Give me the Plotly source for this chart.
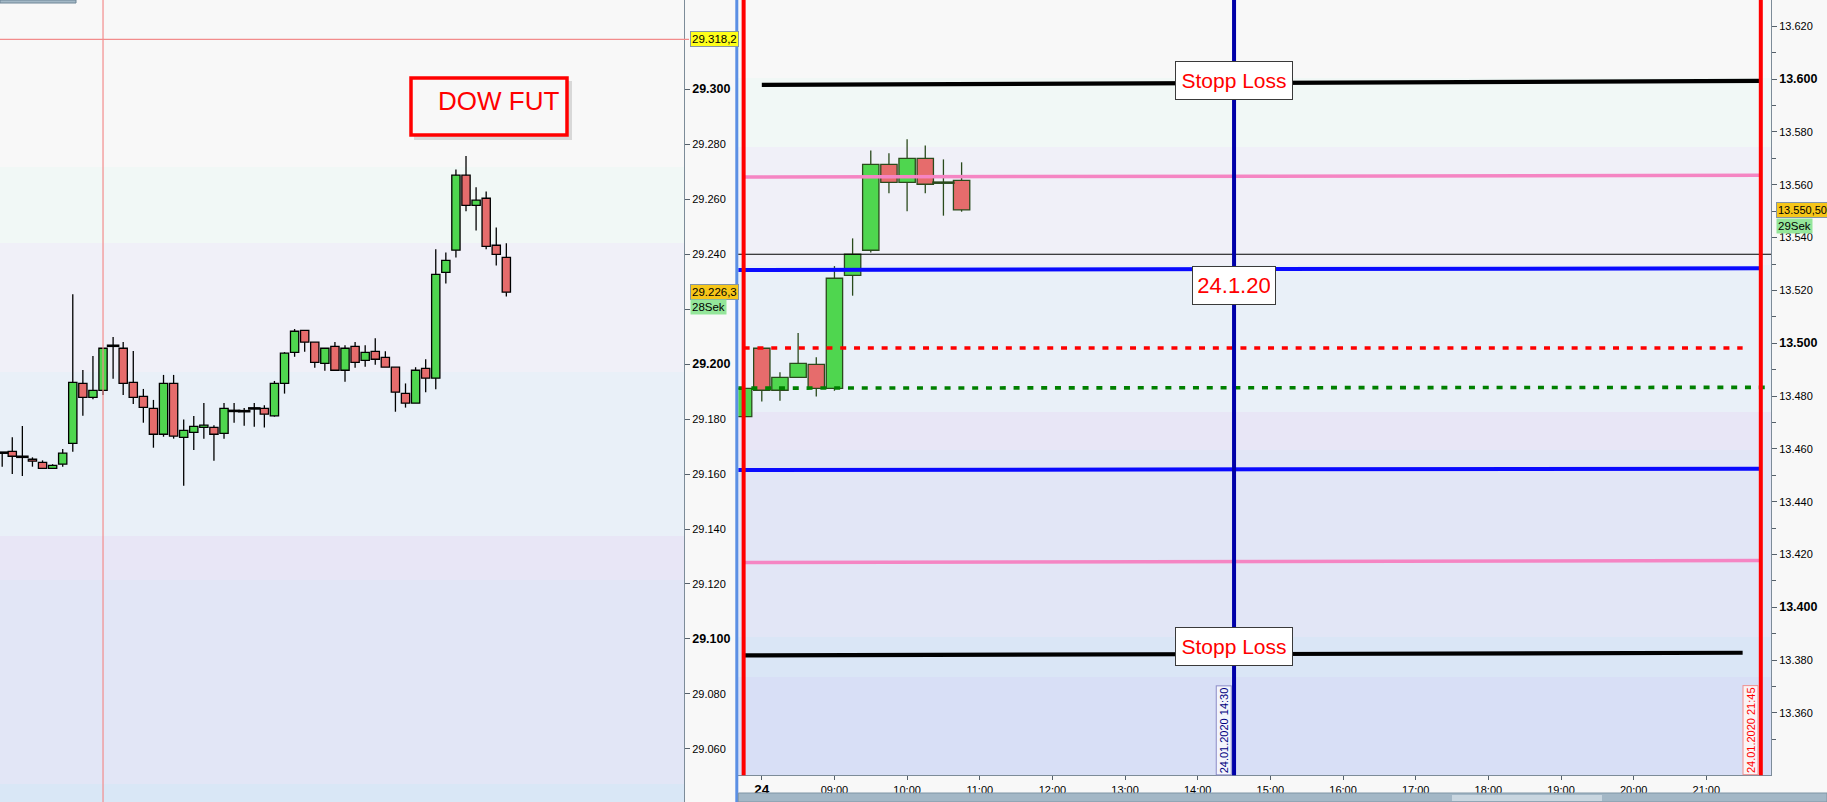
import plotly.graph_objects as go

W, H = 1827, 802

# ---------------- Left chart: DOW FUT (index candles) ----------------
dow_open = [29167.8, 29168.3, 29166.3, 29165.4, 29164.3, 29162.1, 29163.6, 29171.2, 29193.0, 29187.9,
            29190.5, 29206.7, 29205.8, 29193.4, 29188.3, 29183.9, 29174.5, 29193.0, 29173.4, 29175.2,
            29177.0, 29177.0, 29174.8, 29183.0, 29182.9, 29183.9, 29183.9, 29181.2, 29193.0, 29204.3,
            29212.3, 29208.0, 29200.3, 29206.5, 29197.8, 29206.5, 29201.4, 29204.7, 29202.5, 29198.9,
            29189.4, 29185.8, 29198.5, 29194.9, 29233.4, 29241.5, 29268.8, 29257.8, 29260.4, 29243.3,
            29238.9]
dow_high = [29168.0, 29173.4, 29177.5, 29166.1, 29165.0, 29163.6, 29169.1, 29225.5, 29197.9, 29203.0,
            29205.8, 29209.9, 29208.1, 29204.8, 29191.0, 29187.0, 29196.1, 29196.1, 29179.9, 29181.1,
            29185.9, 29177.8, 29185.9, 29185.9, 29184.1, 29185.9, 29185.1, 29193.9, 29204.4, 29212.8,
            29212.3, 29208.0, 29205.8, 29208.1, 29206.9, 29208.1, 29206.9, 29209.4, 29204.7, 29198.9,
            29193.0, 29198.9, 29201.8, 29241.8, 29240.7, 29270.9, 29275.8, 29264.4, 29262.9, 29249.8,
            29244.0]
dow_low = [29162.7, 29160.0, 29159.3, 29162.7, 29162.1, 29162.1, 29162.7, 29168.1, 29181.2, 29187.2,
           29188.8, 29194.7, 29188.8, 29185.5, 29178.7, 29169.6, 29173.6, 29172.9, 29155.8, 29168.8,
           29172.9, 29164.9, 29172.9, 29178.7, 29177.6, 29177.2, 29177.0, 29180.9, 29189.3, 29202.7,
           29204.5, 29198.7, 29197.6, 29197.8, 29193.6, 29198.7, 29199.1, 29199.8, 29198.9, 29182.7,
           29184.2, 29185.8, 29189.8, 29190.9, 29229.4, 29238.8, 29255.7, 29248.7, 29241.8, 29235.9,
           29224.6]
dow_close = [29167.8, 29166.5, 29166.3, 29164.7, 29162.1, 29163.2, 29167.6, 29193.4, 29187.9, 29190.5,
             29205.8, 29206.7, 29193.0, 29187.9, 29184.3, 29174.5, 29193.0, 29173.8, 29175.9, 29177.4,
             29177.8, 29174.5, 29183.9, 29183.0, 29182.9, 29183.9, 29181.8, 29193.0, 29204.0, 29212.0,
             29208.0, 29200.7, 29205.8, 29197.8, 29205.8, 29200.7, 29204.3, 29201.8, 29198.9, 29189.8,
             29185.8, 29197.8, 29194.9, 29232.7, 29237.8, 29268.8, 29257.8, 29259.7, 29242.9, 29240.0,
             29226.2]
dow_last = 29226.3
dow_cross_value = 29318.2
dow_cross_index = 10
dow_ticks = [29060, 29080, 29100, 29120, 29140, 29160, 29180, 29200, 29220, 29240, 29260, 29280, 29300]

# ---------------- Right chart: 15-minute candles ----------------
dax_time = ["2020-01-24 07:45", "2020-01-24 08:00", "2020-01-24 08:15", "2020-01-24 08:30",
            "2020-01-24 08:45", "2020-01-24 09:00", "2020-01-24 09:15", "2020-01-24 09:30",
            "2020-01-24 09:45", "2020-01-24 10:00", "2020-01-24 10:15", "2020-01-24 10:30",
            "2020-01-24 10:45"]
dax_open = [13472.2, 13498.1, 13482.2, 13487.1, 13492.0, 13482.9, 13525.7, 13535.2, 13567.7, 13560.9,
            13570.0, 13560.8, 13561.7]
dax_high = [13484.2, 13498.1, 13489.0, 13503.9, 13494.7, 13529.2, 13539.7, 13573.0, 13571.9, 13577.2,
            13574.9, 13569.6, 13568.5]
dax_low = [13472.2, 13477.9, 13478.2, 13487.1, 13479.8, 13482.0, 13518.0, 13534.4, 13556.8, 13550.0,
           13556.8, 13548.3, 13549.8]
dax_close = [13482.9, 13482.2, 13487.1, 13492.4, 13482.9, 13524.6, 13533.7, 13567.7, 13560.9, 13570.0,
             13560.2, 13560.8, 13550.5]
dax_last = 13550.5
dax_cross_value = 13533.7
dax_ticks = [13360, 13380, 13400, 13420, 13440, 13460, 13480, 13500, 13520, 13540, 13560, 13580, 13600, 13620]
dax_minor = [13350, 13370, 13390, 13410, 13430, 13450, 13470, 13490, 13510, 13530, 13550, 13570, 13590, 13610, 13630]

time_ticks = ["2020-01-24 08:00", "2020-01-24 09:00", "2020-01-24 10:00", "2020-01-24 11:00",
              "2020-01-24 12:00", "2020-01-24 13:00", "2020-01-24 14:00", "2020-01-24 15:00",
              "2020-01-24 16:00", "2020-01-24 17:00", "2020-01-24 18:00", "2020-01-24 19:00",
              "2020-01-24 20:00", "2020-01-24 21:00"]
time_labels = ["24", "09:00", "10:00", "11:00", "12:00", "13:00", "14:00", "15:00", "16:00",
               "17:00", "18:00", "19:00", "20:00", "21:00"]

# drawn levels (right axis values)
level_key = ["sl_top", "pink_top", "blue_top", "red_dot", "green_dot", "blue_low", "pink_low", "sl_low"]
level_t0 = ["2020-01-24 08:00", "2020-01-24 07:45", "2020-01-24 07:40", "2020-01-24 07:45",
            "2020-01-24 07:40", "2020-01-24 07:40", "2020-01-24 07:45", "2020-01-24 07:45"]
level_t1 = ["2020-01-24 21:45", "2020-01-24 21:45", "2020-01-24 21:45", "2020-01-24 21:30",
            "2020-01-24 21:54", "2020-01-24 21:45", "2020-01-24 21:45", "2020-01-24 21:30"]
level_v0 = [13597.8, 13562.9, 13527.7, 13498.2, 13483.0, 13452.0, 13417.0, 13381.8]
level_v1 = [13599.3, 13563.6, 13528.4, 13498.2, 13483.3, 13452.5, 13417.7, 13382.8]

vline_times = ["2020-01-24 07:45", "2020-01-24 14:30", "2020-01-24 21:45"]
vline_labels = ["", "24.01.2020 14:30", "24.01.2020 21:45"]

# ---------------- styles ----------------
FONT = "Liberation Sans, Arial, sans-serif"
GREEN = "#4fd64f"
RED = "#e66c6c"
level_style = {
    "sl_top": dict(color="#000000", width=4.2),
    "pink_top": dict(color="#f585c3", width=3.5),
    "blue_top": dict(color="#0a0aff", width=4.0),
    "red_dot": dict(color="#ff0000", width=3.6, dash="6px,7.8px"),
    "green_dot": dict(color="#008000", width=3.6, dash="6px,7.8px"),
    "blue_low": dict(color="#0a0aff", width=4.0),
    "pink_low": dict(color="#f585c3", width=3.5),
    "sl_low": dict(color="#000000", width=4.2),
}


def px(x):
    return x / W


def py(y):
    return 1 - y / H


def fmt(v, dec=0):
    s = f"{v:,.{dec}f}"
    return s.replace(",", "X").replace(".", ",").replace("X", ".")


def bold_label(v, big):
    t = fmt(v)
    if big:
        return f'<span style="font-size:12.5px"><b>{t}</b></span>'
    return t


fig = go.Figure()


def add_candles(x, o, h, l, c, width, outline, xa, ya, doji_size):
    body_base = [min(a, b) for a, b in zip(o, c)]
    body_h = [abs(b - a) for a, b in zip(o, c)]
    colors = [GREEN if b >= a else RED for a, b in zip(o, c)]
    wx, wy = [], []
    for xi, oi, hi, li, ci in zip(x, o, h, l, c):
        top, bot = max(oi, ci), min(oi, ci)
        wx += [xi, xi, None, xi, xi, None]
        wy += [hi, top, None, bot, li, None]
    fig.add_trace(go.Bar(x=x, y=body_h, base=body_base, width=width,
                         marker=dict(color=colors, line=dict(color=outline, width=1.3)),
                         xaxis=xa, yaxis=ya, hoverinfo="skip", showlegend=False))
    fig.add_trace(go.Scatter(x=wx, y=wy, mode="lines", line=dict(color=outline, width=1.3),
                             connectgaps=False, xaxis=xa, yaxis=ya, hoverinfo="skip", showlegend=False))
    dx = [xi for xi, oi, ci in zip(x, o, c) if oi == ci]
    dy = [oi for oi, ci in zip(o, c) if oi == ci]
    fig.add_trace(go.Scatter(x=dx, y=dy, mode="markers",
                             marker=dict(symbol="line-ew", size=doji_size, line=dict(color=outline, width=2.6)),
                             xaxis=xa, yaxis=ya, hoverinfo="skip", showlegend=False))


dow_x = list(range(len(dow_open)))
add_candles(dow_x, dow_open, dow_high, dow_low, dow_close, 0.82, "#000000", "x", "y", 9)
add_candles(dax_time, dax_open, dax_high, dax_low, dax_close, 810000, "#2a4a1c", "x2", "y2", 16)

for k, t0, t1, v0, v1 in zip(level_key, level_t0, level_t1, level_v0, level_v1):
    fig.add_trace(go.Scatter(x=[t0, t1], y=[v0, v1], mode="lines", line=level_style[k],
                             xaxis="x2", yaxis="y2", hoverinfo="skip", showlegend=False))

shapes = []
# background bands (pixel rows)
left_bands = [(0, 167, "#f8f8f8"), (167, 243, "#f1f8f6"), (243, 372, "#f0f0f8"), (372, 536, "#e9f0f8"),
              (536, 580, "#e8e6f6"), (580, 784, "#e2e6f6"), (784, 802, "#d9e7f6")]
right_bands = [(0, 78, "#f8f8f8"), (78, 147, "#f1f8f6"), (147, 265, "#f0f0f8"), (265, 412, "#e9f0f8"),
               (412, 450, "#e8e6f6"), (450, 637, "#e2e6f6"), (637, 677, "#dae6f6"), (677, 775.3, "#d8dff6")]
for y0, y1, col in left_bands:
    shapes.append(dict(type="rect", xref="paper", yref="paper", x0=px(0), x1=px(684), y0=py(y1), y1=py(y0),
                       fillcolor=col, line=dict(width=0), layer="below"))
for y0, y1, col in right_bands:
    shapes.append(dict(type="rect", xref="paper", yref="paper", x0=px(738), x1=px(1771), y0=py(y1), y1=py(y0),
                       fillcolor=col, line=dict(width=0), layer="below"))

# blue active-window strip and scrollbar
shapes.append(dict(type="rect", xref="paper", yref="paper", x0=px(735.3), x1=px(738.3), y0=0, y1=1,
                   fillcolor="#5b8fe4", line=dict(width=0), layer="above"))
shapes.append(dict(type="rect", xref="paper", yref="paper", x0=px(738.3), x1=1, y0=0, y1=py(793),
                   fillcolor="#a3b7c6", line=dict(color="#7f95a5", width=1), layer="above"))
shapes.append(dict(type="rect", xref="paper", yref="paper", x0=px(1452), x1=px(1602), y0=py(801), y1=py(795),
                   fillcolor="#c9d6e0", line=dict(width=0), layer="above"))
shapes.append(dict(type="rect", xref="paper", yref="paper", x0=0, x1=px(76), y0=py(3), y1=1,
                   fillcolor="#a3b8c6", line=dict(color="#6f8697", width=1), layer="above"))

# left crosshair
shapes.append(dict(type="line", xref="x", yref="y domain", x0=dow_cross_index, x1=dow_cross_index, y0=0, y1=1,
                   line=dict(color="#f28c8c", width=1.2), layer="above"))
shapes.append(dict(type="line", xref="paper", yref="y", x0=0, x1=px(689), y0=dow_cross_value, y1=dow_cross_value,
                   line=dict(color="#f28c8c", width=1.2), layer="above"))
# right crosshair
shapes.append(dict(type="line", xref="x2 domain", yref="y2", x0=0, x1=1, y0=dax_cross_value, y1=dax_cross_value,
                   line=dict(color="#000000", width=1.1), layer="above"))
# vertical time lines
vcols = ["#ff0000", "#0000a8", "#ff0000"]
for t, col in zip(vline_times, vcols):
    shapes.append(dict(type="line", xref="x2", yref="y2 domain", x0=t, x1=t, y0=0, y1=1,
                       line=dict(color=col, width=4), layer="above"))

# DOW FUT box with shadow
shapes.append(dict(type="rect", xref="paper", yref="paper", x0=px(414), x1=px(572), y0=py(140), y1=py(81),
                   fillcolor="rgba(0,0,0,0.13)", line=dict(width=0), layer="above"))
shapes.append(dict(type="rect", xref="paper", yref="paper", x0=px(411), x1=px(567), y0=py(135), y1=py(78),
                   fillcolor="#f8f8f8", line=dict(color="#ff0000", width=3.5), layer="above"))

annotations = []
annotations.append(dict(text="DOW FUT", xref="paper", yref="paper", x=px(499), y=py(101),
                        xanchor="center", yanchor="middle", showarrow=False,
                        font=dict(family=FONT, size=26, color="#ff0000")))


def box_label(text, t, v, size, w, h, pad):
    return dict(text=text, xref="x2", yref="y2", x=t, y=v, xanchor="center", yanchor="middle",
                width=w, height=h, showarrow=False, font=dict(family=FONT, size=size, color="#ff0000"),
                bgcolor="#ffffff", bordercolor="#3a3a3a", borderwidth=1, borderpad=pad)


annotations.append(box_label("Stopp Loss", "2020-01-24 14:30",
                             level_v0[0] + 0.6 * (level_v1[0] - level_v0[0]) + 0.6, 21, 106, 27, 5))
annotations.append(box_label("Stopp Loss", "2020-01-24 14:30",
                             level_v0[7] + 0.6 * (level_v1[7] - level_v0[7]) + 2.6, 21, 106, 27, 5))
annotations.append(box_label("24.1.20", "2020-01-24 14:30", level_v0[2] - 6.0, 22, 72, 27, 5))

annotations.append(dict(text=vline_labels[1], xref="x2", yref="y2 domain", x=vline_times[1], y=0,
                        xanchor="right", yanchor="bottom", xshift=-2, textangle=-90, showarrow=False,
                        font=dict(family=FONT, size=11, color="#000080"), bgcolor="#f3f5fc",
                        bordercolor="#8c8cc8", borderwidth=1, borderpad=1))
annotations.append(dict(text=vline_labels[2], xref="x2", yref="y2 domain", x=vline_times[2], y=0,
                        xanchor="right", yanchor="bottom", xshift=-2, textangle=-90, showarrow=False,
                        font=dict(family=FONT, size=11, color="#ff0000"), bgcolor="#fbf3f5",
                        bordercolor="#f09090", borderwidth=1, borderpad=1))


def price_tag(text, x_px, yref, y, bg, size=11.5):
    return dict(text=text, xref="paper", yref=yref, x=px(x_px), y=y, xanchor="left", yanchor="middle",
                showarrow=False, font=dict(family=FONT, size=size, color="#000000"),
                bgcolor=bg, bordercolor="#8595a5", borderwidth=1, borderpad=1)


annotations.append(price_tag(fmt(dow_cross_value, 1), 689.5, "y", dow_cross_value, "#ffff1a"))
annotations.append(price_tag(fmt(dow_last, 1), 689.5, "y", dow_last, "#f6c619"))
annotations.append(dict(text="28Sek", xref="paper", yref="y", x=px(689.5), y=dow_last, yshift=-15,
                        xanchor="left", yanchor="middle", showarrow=False,
                        font=dict(family=FONT, size=11.5, color="#000000"), bgcolor="#94e69a", borderpad=1))
annotations.append(price_tag(fmt(dax_last, 2), 1776, "y2", dax_last, "#f6c619", 11))
annotations.append(dict(text="29Sek", xref="paper", yref="y2", x=px(1776), y=dax_last, yshift=-16,
                        xanchor="left", yanchor="middle", showarrow=False,
                        font=dict(family=FONT, size=11.5, color="#000000"), bgcolor="#94e69a", borderpad=1))

tick_font = dict(family=FONT, size=11, color="#000000")
fig.update_layout(
    width=W, height=H, margin=dict(l=0, r=0, t=0, b=0, autoexpand=False),
    paper_bgcolor="#f8f8f8", plot_bgcolor="rgba(0,0,0,0)",
    barmode="overlay", showlegend=False, shapes=shapes, annotations=annotations,
    xaxis=dict(domain=[0, px(684)], range=[-0.218, 67.62], visible=False, fixedrange=True),
    yaxis=dict(domain=[0, 1], range=[29040.65, 29332.56], side="right", anchor="x",
               tickvals=dow_ticks, ticktext=[bold_label(v, v % 100 == 0) for v in dow_ticks],
               ticks="outside", ticklen=5, tickcolor="#55606a", showline=True, linecolor="#7d8c99",
               showgrid=False, zeroline=False, tickfont=tick_font),
    xaxis2=dict(domain=[px(738.3), px(1771)], type="date", anchor="y2",
                range=["2020-01-24 07:40:36", "2020-01-24 21:53:25"],
                tickvals=time_ticks,
                ticktext=['<span style="font-size:13.5px"><b>24</b></span>'] + time_labels[1:],
                ticks="outside", ticklen=4, tickcolor="#55606a", showline=True, linecolor="#7d8c99",
                showgrid=False, zeroline=False, tickfont=tick_font),
    yaxis2=dict(domain=[(H - 775.3) / H, 1], range=[13336.4, 13629.96], side="right", anchor="x2",
                tickvals=dax_ticks, ticktext=[bold_label(v, v % 100 == 0) for v in dax_ticks],
                ticks="outside", ticklen=5, tickcolor="#55606a", showline=True, linecolor="#7d8c99",
                minor=dict(tickvals=dax_minor, ticks="outside", ticklen=4, tickcolor="#55606a"),
                showgrid=False, zeroline=False, tickfont=tick_font),
)

fig.write_html("out.html", config={"displayModeBar": False},
               post_script="document.body.style.margin='0';document.body.style.overflow='hidden';")
